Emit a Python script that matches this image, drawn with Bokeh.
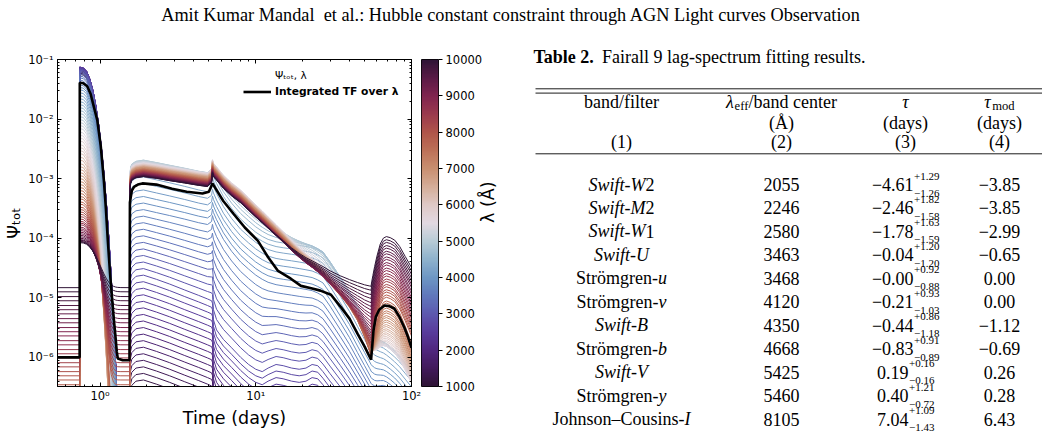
import math
import numpy as np
from bokeh.plotting import figure
from bokeh.models import (Range1d, LogAxis, LinearAxis, FixedTicker, Legend, LegendItem,
                          LinearColorMapper, CustomJSTickFormatter)
from bokeh.layouts import row, column
from bokeh.embed import file_html
from bokeh.resources import INLINE
from bokeh.core.properties import value

# ---------------------------------------------------------------- data
# wavelength of every response curve (Angstrom)
lam = list(range(1000, 10001, 100))

# constant level (log10) before the flash; None = below the plotted range
floor_lvl = [None] * 68 + [
    -6.46, -6.38, -6.31, -6.24, -6.16, -6.09, -6.01, -5.94, -5.87, -5.79,
    -5.72, -5.64, -5.57, -5.50, -5.42, -5.35, -5.27, -5.20, -5.13, -5.05,
    -4.98, -4.90, -4.83]

# first (disc) response: level at onset and relative steepness of the decay
peak_lvl = [
    -1.25, -1.23, -1.21, -1.19, -1.18, -1.17, -1.16, -1.15, -1.14, -1.14,
    -1.13, -1.13, -1.13, -1.13, -1.13, -1.13, -1.14, -1.15, -1.16, -1.17,
    -1.18, -1.20, -1.22, -1.25, -1.28, -1.31, -1.35, -1.39, -1.43, -1.47,
    -1.51, -1.56, -1.61, -1.66, -1.71, -1.76, -1.81, -1.86, -1.91, -1.96,
    -2.01, -2.06, -2.11, -2.16, -2.22, -2.27, -2.32, -2.37, -2.43, -2.48,
    -2.53, -2.58, -2.64, -2.69, -2.75, -2.80, -2.85, -2.90, -2.95, -3.00,
    -3.05, -3.10, -3.15, -3.20, -3.25, -3.30, -3.34, -3.39, -3.43, -3.48,
    -3.52, -3.56, -3.60, -3.64, -3.68, -3.72, -3.75, -3.78, -3.82, -3.85,
    -3.88, -3.91, -3.94, -3.97, -4.00, -4.03, -4.06, -4.08, -4.11, -4.13,
    -4.16]
peak_fall = [1.0] * 30 + [
    1.00, 1.02, 1.04, 1.06, 1.08, 1.10, 1.13, 1.16, 1.19, 1.22,
    1.25, 1.28, 1.31, 1.34, 1.37, 1.40, 1.42, 1.44, 1.46, 1.48,
    1.50, 1.48, 1.46, 1.44, 1.42, 1.40, 1.36, 1.33, 1.29, 1.26,
    1.22, 1.19, 1.15, 1.12, 1.08, 1.05, 1.02, 0.98, 0.95, 0.91,
    0.88, 0.85, 0.83, 0.80, 0.78, 0.75, 0.73, 0.71, 0.68, 0.66,
    0.64, 0.62, 0.60, 0.58, 0.57, 0.55, 0.53, 0.51, 0.49, 0.48,
    0.46]

# second response: level (log10) at t = 1.9 d
plateau_lvl = [
    -6.60, -6.49, -6.38, -6.27, -6.16, -6.05, -5.94, -5.83, -5.72, -5.61,
    -5.50, -5.39, -5.28, -5.17, -5.06, -4.95, -4.84, -4.73, -4.62, -4.51,
    -4.40, -4.29, -4.18, -4.07, -3.96, -3.85, -3.74, -3.63, -3.52, -3.41,
    -3.30, -3.19, -3.08, -2.97, -2.88, -2.80, -2.75, -2.72, -2.70, -2.69,
    -2.69, -2.70, -2.71, -2.72, -2.73, -2.74, -2.75, -2.75, -2.76, -2.76,
    -2.77, -2.77, -2.78, -2.78, -2.79, -2.79, -2.80, -2.80, -2.81, -2.81,
    -2.82, -2.83, -2.83, -2.84, -2.84, -2.85, -2.85, -2.86, -2.86, -2.87,
    -2.87, -2.88, -2.88, -2.89, -2.89, -2.90, -2.90, -2.91, -2.91, -2.92,
    -2.92, -2.93, -2.93, -2.94, -2.94, -2.95, -2.95, -2.96, -2.96, -2.97,
    -2.97]
# which late-time profile a curve follows: 0 = short, 1 = mid, 2 = long wavelength
shape_mix = ([0.0] * 19 + [0.1, 0.2, 0.3, 0.4, 0.5, 0.6, 0.7, 0.8, 0.9] + [1.0] * 8
             + [1.1, 1.2, 1.3, 1.4, 1.5, 1.6, 1.7, 1.8, 1.9] + [2.0] * 46)

# third (dust) response: peak level (log10) near t = 69 d
dust_lvl = [
    -8.09, -8.05, -8.00, -7.96, -7.91, -7.87, -7.82, -7.78, -7.73, -7.69,
    -7.64, -7.60, -7.55, -7.51, -7.46, -7.42, -7.37, -7.33, -7.28, -7.24,
    -7.19, -7.15, -7.10, -7.06, -7.01, -6.97, -6.92, -6.88, -6.83, -6.79,
    -6.74, -6.70, -6.65, -6.61, -6.56, -6.52, -6.47, -6.43, -6.38, -6.34,
    -6.29, -6.25, -6.20, -6.16, -6.11, -6.07, -6.02, -5.98, -5.93, -5.89,
    -5.84, -5.80, -5.75, -5.71, -5.66, -5.62, -5.57, -5.53, -5.48, -5.44,
    -5.39, -5.35, -5.30, -5.26, -5.21, -5.17, -5.12, -5.08, -5.03, -4.99,
    -4.94, -4.90, -4.85, -4.81, -4.76, -4.72, -4.67, -4.63, -4.58, -4.54,
    -4.49, -4.45, -4.40, -4.36, -4.31, -4.27, -4.22, -4.18, -4.13, -4.09,
    -4.04]

# time knots (days) and relative profiles (dex)
t_pre = [0.533, 0.7395]
t_peak = [0.74, 0.78, 0.82, 0.86, 0.90, 0.94, 0.98, 1.02, 1.06, 1.10, 1.14, 1.18, 1.22, 1.26, 1.30, 1.36]
peak_shape = [0.0, -0.01, -0.07, -0.2, -0.39, -0.65, -0.97, -1.35, -1.8, -2.31, -2.89, -3.53, -4.23, -5.0, -5.83, -7.2]
t_gap = 1.549
t_main = [1.55, 1.57, 1.6, 1.7, 1.9, 2.3, 2.8, 3.5, 4.3, 4.9,
          5.2, 5.27, 5.35, 5.6, 6.2, 7.0, 8.0, 9.0, 10.0, 11.0,
          12.0, 13.5, 15.0, 17.0, 19.0, 21.0, 23.0, 25.0, 27.0, 30.0,
          35.0, 40.0, 45.0, 50.0, 54.0, 55.0, 55.5, 56.5, 58.0, 60.0,
          63.0, 66.0, 69.0, 73.0, 78.0, 84.0, 91.0, 100.0]
shape_short = [-0.45, -0.18, -0.09, -0.02, 0.0, -0.07, -0.15, -0.25, -0.34, -0.40,
               -0.43, -0.47, -0.75, -0.92, -1.08, -1.22, -1.38, -1.50, -1.58, -1.62,
               -1.56, -1.50, -1.52, -1.56, -1.58, -1.56, -1.50, -1.52, -1.62, -1.78,
               -2.00, -2.20, -2.38, -2.55, -2.67, -2.70, -2.71, -2.73, -2.76, -2.80,
               -2.86, -2.92, -2.98, -3.05, -3.13, -3.22, -3.32, -3.45]
shape_mid = [-0.40, -0.14, -0.07, -0.02, 0.0, -0.05, -0.10, -0.16, -0.22, -0.25,
             -0.20, -0.10, -0.16, -0.28, -0.50, -0.70, -0.88, -1.00, -1.10, -1.17,
             -1.22, -1.26, -1.28, -1.30, -1.32, -1.34, -1.36, -1.40, -1.45, -1.62,
             -1.90, -2.15, -2.40, -2.62, -2.78, -2.82, -2.84, -2.86, -2.90, -2.94,
             -3.00, -3.05, -3.10, -3.16, -3.23, -3.30, -3.38, -3.48]
shape_long = [-0.35, -0.12, -0.06, -0.02, 0.0, -0.03, -0.07, -0.11, -0.15, -0.17,
              -0.10, 0.06, 0.00, -0.06, -0.20, -0.33, -0.45, -0.58, -0.70, -0.80,
              -0.90, -1.03, -1.15, -1.30, -1.42, -1.52, -1.60, -1.68, -1.76, -1.90,
              -2.10, -2.30, -2.52, -2.80, -3.05, -3.12, -3.14, -3.17, -3.20, -3.25,
              -3.31, -3.37, -3.42, -3.50, -3.58, -3.68, -3.80, -3.95]
shape_dust = [None] * 36 + [-1.5, -1.05, -0.7, -0.42, -0.15, -0.03, 0.0, -0.02, -0.07, -0.2, -0.42, -0.72]

# wavelength-integrated transfer function
tf_time = [0.533, 0.7395, 0.741, 0.78, 0.827, 0.87, 0.912, 0.96, 1.01, 1.058,
           1.09, 1.122, 1.16, 1.198, 1.23, 1.258, 1.28, 1.30, 1.40, 1.545,
           1.555, 1.6, 1.65, 1.75, 1.87, 2.3, 2.9, 3.6, 4.55, 5.0,
           5.27, 5.5, 6.2, 7.2, 8.5, 10.3, 12.0, 13.9, 16.8, 19.5,
           22.7, 26.0, 30.4, 35.5, 40.0, 45.0, 50.0, 55.0, 56.0, 57.0,
           59.0, 62.0, 67.0, 72.0, 77.5, 84.0, 90.0, 95.0, 100.0]
tf_log = [-6.0, -6.0, -1.39, -1.40, -1.45, -1.58, -1.79, -2.02, -2.45, -3.03,
          -3.5, -4.04, -4.6, -5.05, -5.4, -5.67, -5.9, -6.02, -6.05, -6.05,
          -3.4, -3.2, -3.14, -3.1, -3.08, -3.1, -3.17, -3.22, -3.25, -3.22,
          -3.08, -3.16, -3.38, -3.59, -3.82, -4.04, -4.32, -4.55, -4.68, -4.8,
          -4.84, -4.88, -4.95, -5.17, -5.35, -5.6, -5.82, -6.04, -5.8, -5.55,
          -5.32, -5.2, -5.13, -5.14, -5.18, -5.33, -5.5, -5.66, -5.84]

# axis ticks
x_major = [1, 10, 100]
x_minor = [0.6, 0.7, 0.8, 0.9, 2, 3, 4, 5, 6, 7, 8, 9, 20, 30, 40, 50, 60, 70, 80, 90]
y_major = [1e-6, 1e-5, 1e-4, 1e-3, 1e-2, 1e-1]
y_minor = [k * 10.0 ** e for e in range(-7, -1) for k in range(2, 10)]
cbar_ticks = [1000, 2000, 3000, 4000, 5000, 6000, 7000, 8000, 9000, 10000]

# table contents
caption_bold = "Table 2."
caption_rest = "Fairall 9 lag-spectrum fitting results."
band_labels = ["*Swift*-*W*2", "*Swift*-*M*2", "*Swift*-*W*1", "*Swift-U*", "Strömgren-*u*",
               "Strömgren-*v*", "*Swift-B*", "Strömgren-*b*", "*Swift-V*", "Strömgren-*y*",
               "Johnson–Cousins-*I*"]
lam_eff = [2055, 2246, 2580, 3463, 3468, 4120, 4350, 4668, 5425, 5460, 8105]
tau_txt = ["−4.61", "−2.46", "−1.78", "−0.04", "−0.00", "−0.21", "−0.44", "−0.83", "0.19", "0.40", "7.04"]
tau_up = ["+1.29", "+1.82", "+1.63", "+1.20", "+0.92", "+0.93", "+0.86", "+0.91", "+0.16", "+1.21", "+1.09"]
tau_dn = ["−1.26", "−1.58", "−1.59", "−1.20", "−0.88", "−1.03", "−1.18", "−0.89", "−0.16", "−0.72", "−1.43"]
tau_mod_txt = ["−3.85", "−3.85", "−2.99", "−0.65", "0.00", "0.00", "−1.12", "−0.69", "0.26", "0.28", "6.43"]

# ---------------------------------------------------------------- colour map (twilight, shifted)
twilight_stops = ["#2f1436", "#421a5c", "#50277f", "#593c9c", "#5d59b0", "#6078bc", "#6e97c4",
                  "#8fb2cc", "#b8cbd6", "#e2d9e2", "#dfc9c6", "#d5ad99", "#c98f70", "#bd7158",
                  "#b0554a", "#9b3a4d", "#80244f", "#5b1a46", "#2f1436"]
_rgb = [tuple(int(h[k:k + 2], 16) for k in (1, 3, 5)) for h in twilight_stops]


def twilight(frac):
    frac = min(max(frac, 0.0), 1.0)
    pos = frac * (len(_rgb) - 1)
    i = min(int(pos), len(_rgb) - 2)
    f = pos - i
    a, b = _rgb[i], _rgb[i + 1]
    return "#%02x%02x%02x" % tuple(int(round(a[k] + (b[k] - a[k]) * f)) for k in range(3))


palette = [twilight(i / 255) for i in range(256)]
mapper = LinearColorMapper(palette=palette, low=1000, high=10000)

# ---------------------------------------------------------------- curves
HIDDEN = -12.0  # floors that lie far below the plotted range


def log_sum(*levels):
    return math.log10(sum(10.0 ** v for v in levels if v is not None))


def late_shape(m, j):
    if m <= 1.0:
        return shape_short[j] * (1.0 - m) + shape_mid[j] * m
    return shape_mid[j] * (2.0 - m) + shape_long[j] * (m - 1.0)


xs, ys, colors = [], [], []
for i, wl in enumerate(lam):
    fl = floor_lvl[i] if floor_lvl[i] is not None else HIDDEN
    tt = list(t_pre)
    ll = [fl, fl]
    for t, d in zip(t_peak, peak_shape):
        tt.append(t)
        ll.append(log_sum(fl, peak_lvl[i] + peak_fall[i] * d))
    tt.append(t_gap)
    ll.append(fl)
    for j, t in enumerate(t_main):
        parts = [fl, plateau_lvl[i] + late_shape(shape_mix[i], j)]
        if shape_dust[j] is not None:
            parts.append(dust_lvl[i] + shape_dust[j])
        tt.append(t)
        ll.append(log_sum(*parts))
    xs.append(tt)
    ys.append([10.0 ** v for v in ll])
    colors.append(twilight((wl - 1000) / 9000))

# ---------------------------------------------------------------- main panel
p = figure(x_axis_type="log", y_axis_type="log",
           x_range=Range1d(0.533, 100), y_range=Range1d(3.24e-7, 0.1),
           frame_width=354, frame_height=327,
           min_border_left=57, min_border_right=10, min_border_top=29, min_border_bottom=52,
           toolbar_location=None, output_backend="svg")
p.grid.visible = False
p.outline_line_color = "black"
p.background_fill_color = "white"

p.multi_line(xs, ys, line_color=colors, line_width=1)
tf_line = p.line(tf_time, [10.0 ** v for v in tf_log], line_color="black", line_width=2.6)
gray_line = p.line(x=[], y=[], line_color="#8c8c8c", line_width=1.2)

pow10 = CustomJSTickFormatter(code="""
const sup = {"-": "\u207b", "0": "\u2070", "1": "\u00b9", "2": "\u00b2", "3": "\u00b3",
             "4": "\u2074", "5": "\u2075", "6": "\u2076", "7": "\u2077", "8": "\u2078", "9": "\u2079"};
const e = Math.round(Math.log10(tick));
return "10" + String(e).split("").map(c => sup[c]).join("");
""")
blank = CustomJSTickFormatter(code="return '';")


def style_axis(ax, labels):
    ax.major_tick_in = 4
    ax.major_tick_out = 0
    ax.minor_tick_in = 2
    ax.minor_tick_out = 0
    ax.axis_line_color = "black"
    ax.major_tick_line_color = "black"
    ax.minor_tick_line_color = "black"
    if labels:
        ax.formatter = pow10
        ax.major_label_text_font = "DejaVu Sans"
        ax.major_label_text_font_size = "11.5px"
        ax.major_label_text_color = "black"
        ax.axis_label_text_font = "DejaVu Sans"
        ax.axis_label_text_font_style = "normal"
        ax.axis_label_text_font_size = "17.5px"
        ax.axis_label_text_color = "black"
    else:
        ax.formatter = blank
        ax.major_label_text_font_size = "2px"
        ax.major_label_standoff = 0


xt = FixedTicker(ticks=x_major, minor_ticks=x_minor)
yt = FixedTicker(ticks=y_major, minor_ticks=y_minor)
p.xaxis[0].ticker = xt
p.yaxis[0].ticker = yt
style_axis(p.xaxis[0], True)
style_axis(p.yaxis[0], True)
p.xaxis[0].axis_label = "Time (days)"
p.xaxis[0].major_label_standoff = 2
p.xaxis[0].axis_label_standoff = 2
p.yaxis[0].axis_label = "Ψₜₒₜ"
p.yaxis[0].major_label_standoff = 4
p.yaxis[0].axis_label_standoff = 1

top_ax = LogAxis(ticker=FixedTicker(ticks=x_major, minor_ticks=x_minor))
right_ax = LogAxis(ticker=FixedTicker(ticks=y_major, minor_ticks=y_minor))
style_axis(top_ax, False)
style_axis(right_ax, False)
p.add_layout(top_ax, "above")
p.add_layout(right_ax, "right")

leg_common = dict(border_line_color=None, background_fill_alpha=0, padding=0, margin=0, spacing=0,
                  glyph_width=28, glyph_height=17, label_height=17, label_standoff=4,
                  label_text_color="black")
leg1 = Legend(items=[LegendItem(label="Ψₜₒₜ, λ", renderers=[gray_line])], location=(186, 303),
              label_text_font="DejaVu Sans", label_text_font_size="10.5px", **leg_common)
leg2 = Legend(items=[LegendItem(label="Integrated TF over λ", renderers=[tf_line])], location=(186, 286),
              label_text_font="DejaVu Sans", label_text_font_style="bold", label_text_font_size="10.7px",
              **leg_common)
p.add_layout(leg1)
p.add_layout(leg2)

# ---------------------------------------------------------------- colour bar
cbf = figure(x_range=Range1d(0, 1), y_range=Range1d(1000, 10000),
             frame_width=17, frame_height=327,
             min_border_left=0, min_border_right=73, min_border_top=29, min_border_bottom=52,
             x_axis_location=None, y_axis_location=None,
             toolbar_location=None, output_backend="svg")
cbf.grid.visible = False
cbf.outline_line_color = "black"
cbf.image(image=[np.linspace(1000, 10000, 256).reshape(256, 1)], x=0, y=1000, dw=1, dh=9000,
          color_mapper=mapper)
cax = LinearAxis(ticker=FixedTicker(ticks=cbar_ticks, minor_ticks=[]))
cax.major_tick_in = 0
cax.major_tick_out = 4
cax.minor_tick_out = 0
cax.axis_line_color = None
cax.major_tick_line_color = "black"
cax.major_label_standoff = 3
cax.major_label_text_font = "DejaVu Sans"
cax.major_label_text_font_size = "11.5px"
cax.major_label_text_color = "black"
cax.axis_label = "λ (Å)"
cax.axis_label_text_font = "DejaVu Sans"
cax.axis_label_text_font_style = "normal"
cax.axis_label_text_font_size = "17.5px"
cax.axis_label_text_color = "black"
cax.axis_label_standoff = 3
cax.axis_label_orientation = math.pi / 2
cbf.add_layout(cax, "right")

# ---------------------------------------------------------------- table
W_REG = {" ": 250, "-": 333, "–": 500, "(": 333, ")": 333, ".": 250, "/": 278, ":": 278,
         "+": 564, "−": 564, "Å": 722, "A": 722, "B": 667, "C": 667, "D": 722, "E": 611,
         "F": 556, "G": 722, "H": 722, "I": 333, "J": 389, "K": 722, "L": 611, "M": 889,
         "N": 722, "O": 722, "P": 556, "S": 556, "T": 611, "U": 722, "V": 722, "W": 944,
         "a": 444, "b": 500, "c": 444, "d": 500, "e": 444, "f": 333, "g": 500, "h": 500,
         "i": 278, "j": 278, "k": 500, "l": 278, "m": 778, "n": 500, "o": 500, "p": 500,
         "r": 333, "s": 389, "t": 278, "u": 500, "v": 500, "w": 722, "y": 500, "ö": 500}
W_ITA = {" ": 250, "-": 333, "S": 500, "w": 667, "i": 278, "f": 278, "t": 278, "W": 833,
         "M": 833, "U": 722, "B": 611, "V": 611, "I": 333, "u": 500, "v": 444, "b": 500,
         "y": 444, "τ": 440, "λ": 480}
W_BLD = {" ": 250, ".": 250, "T": 667, "a": 500, "b": 556, "l": 278, "e": 444}
SERIF = "Liberation Serif"


def text_width(txt, size, style):
    table = W_ITA if style == "italic" else (W_BLD if style == "bold" else W_REG)
    return sum(table.get(c, 500) for c in txt) * size / 1000.0


def put(fig, x, y, txt, size, style="normal", align="left"):
    fig.text(x=[x], y=[y], text=[txt], text_font=value(SERIF), text_font_size="%.2fpx" % size,
             text_font_style=style, text_align=align, text_baseline="alphabetic", text_color="black")


def put_runs(fig, xc, y, runs, size):
    # runs: (text, style, scale, dy)
    total = sum(text_width(t, size * sc, st) for t, st, sc, dy in runs)
    x = xc - total / 2.0
    for t, st, sc, dy in runs:
        put(fig, x, y + dy, t, size * sc, st)
        x += text_width(t, size * sc, st)


def markup_runs(label):
    parts = label.split("*")
    return [(s, "italic" if k % 2 else "normal", 1.0, 0.0) for k, s in enumerate(parts) if s]


tbl = figure(x_range=Range1d(511, 1042), y_range=Range1d(438, 30), width=531, height=408,
             min_border=0, x_axis_location=None, y_axis_location=None,
             toolbar_location=None, output_backend="svg")
tbl.frame_align = False
tbl.grid.visible = False
tbl.outline_line_color = None

FS = 18.0
put(tbl, 533, 56, caption_bold, FS, "bold")
put(tbl, 535 + text_width(caption_bold + " ", FS, "bold"), 56, caption_rest, FS)
tbl.segment(x0=[535, 535, 535], y0=[88.3, 92.6, 153.3], x1=[1042, 1042, 1042], y1=[88.3, 92.6, 153.3],
            line_color="black", line_width=0.9)

c1, c2, c3, c4 = 621, 781, 905, 999
h1, h2, h3 = 101.5, 122.5, 141.0
put(tbl, c1, h1, "band/filter", FS, align="center")
put_runs(tbl, c2, h1, [("λ", "italic", 1.0, 0.0), ("eff", "normal", 0.7, 3.5),
                       ("/band center", "normal", 1.0, 0.0)], FS)
put(tbl, c3, h1, "τ", FS, "italic", align="center")
put_runs(tbl, c4, h1, [("τ", "italic", 1.0, 0.0), ("mod", "normal", 0.7, 3.5)], FS)
put(tbl, c2, h2, "(Å)", FS, align="center")
put(tbl, c3, h2, "(days)", FS, align="center")
put(tbl, c4, h2, "(days)", FS, align="center")
for xc, lab in zip([c1, c2, c3, c4], ["(1)", "(2)", "(3)", "(4)"]):
    put(tbl, xc, h3, lab, FS, align="center")

SS = 11.0
for k in range(len(band_labels)):
    yb = 184.0 + 23.47 * k
    put_runs(tbl, c1, yb, markup_runs(band_labels[k]), FS)
    put(tbl, c2, yb, str(lam_eff[k]), FS, align="center")
    wm = text_width(tau_txt[k], FS, "normal")
    ws = max(text_width(tau_up[k], SS, "normal"), text_width(tau_dn[k], SS, "normal"))
    x0 = c3 - (wm + ws) / 2.0
    put(tbl, x0, yb, tau_txt[k], FS)
    put(tbl, x0 + wm + 0.5, yb - 8.5, tau_up[k], SS)
    put(tbl, x0 + wm + 0.5, yb + 8.5, tau_dn[k], SS)
    put(tbl, c4, yb, tau_mod_txt[k], FS, align="center")

# ---------------------------------------------------------------- running head
head = figure(x_range=Range1d(0, 1042), y_range=Range1d(30, 0), width=1042, height=30,
              min_border=0, x_axis_location=None, y_axis_location=None,
              toolbar_location=None, output_backend="svg")
head.frame_align = False
head.grid.visible = False
head.outline_line_color = None
put(head, 510.5, 14,
    "Amit Kumar Mandal\u00a0 et al.: Hubble constant constraint through AGN Light curves Observation",
    18.3, align="center")

page = column(head, row(p, cbf, tbl, spacing=0), spacing=0)
open("out.html", "w").write(file_html(page, INLINE))
